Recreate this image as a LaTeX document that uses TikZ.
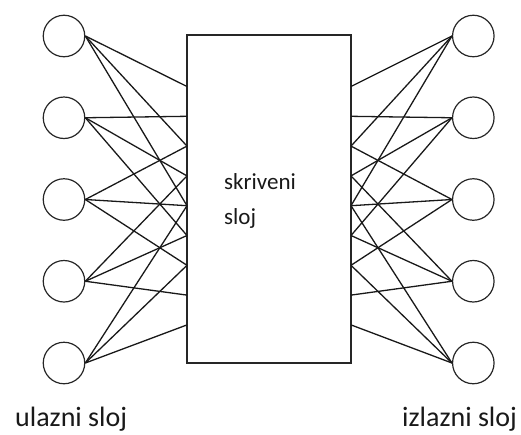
\documentclass[tikz,border=0pt]{standalone}
\usepackage{fontspec}
\setmainfont{Carlito}
\begin{document}
\begin{tikzpicture}[x=1pt,y=-1pt,
  neuron/.style={circle,draw=black!85,line width=1.2pt,minimum size=41.5pt,inner sep=0pt},
  hidbox/.style={rectangle,draw=black!85,line width=1.3pt,minimum width=164pt,minimum height=328pt,inner sep=0pt},
  link/.style={draw=black!90,line width=1.3pt},
  lbl/.style={inner sep=0pt,font=\fontsize{28}{34}\selectfont,text=black!90},
  boxtxt/.style={inner sep=0pt,font=\fontsize{23}{28}\selectfont,text=black!90}]
\useasboundingbox (0,0) rectangle (521,434);
% hidden layer box
\node[hidbox] (h) at (269,199) {};
% neurons
\foreach \i in {0,...,4}{
  \pgfmathsetmacro{\cy}{36+81.75*\i}
  \node[neuron] (l\i) at (64,\cy) {};
  \node[neuron] (r\i) at (473.3,\cy) {};
}
% attachment points on the box edges
\foreach \k in {0,...,8}{
  \pgfmathsetmacro{\py}{86.5+29.8*\k}
  \coordinate (hl\k) at (187,\py);
  \coordinate (hr\k) at (351,\py);
}
% connectors
\foreach \i in {0,...,4}{
  \foreach \d in {0,2,4}{
    \pgfmathtruncatemacro{\k}{\i+\d}
    \draw[link] (l\i.east) -- (hl\k);
    \draw[link] (hr\k) -- (r\i.west);
  }
}
% texts
\node[boxtxt,anchor=base west] (t1) at (224,189) {skriveni};
\node[boxtxt,anchor=base west] (t2) at (224,224) {sloj};
\node[lbl,anchor=base west] (inl) at (15,426) {ulazni sloj};
\node[lbl,anchor=base west] (outl) at (402,426) {izlazni sloj};
\end{tikzpicture}
\end{document}
